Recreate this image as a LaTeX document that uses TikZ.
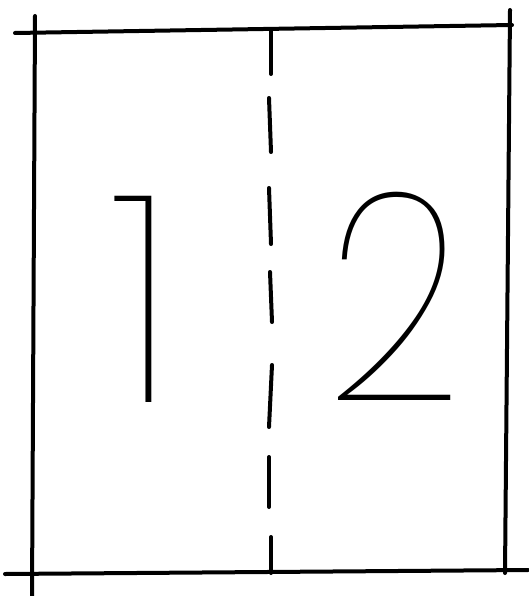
\documentclass[tikz,border=0pt]{standalone}
\usepackage{fontspec}
\newfontfamily\digitfont{Poppins Thin}
\begin{document}
\begin{tikzpicture}[x=1pt,y=-1pt,
  frame/.style={line width=4pt, line cap=round},
  dashseg/.style={line width=4pt, line cap=round},
  digit/.style={font=\digitfont\fontsize{293}{293}\selectfont, anchor=base, inner sep=0pt}]
\useasboundingbox (0,0) rectangle (528,596);
% frame
\coordinate (tl) at (15,33);
\coordinate (tr) at (512,25);
\coordinate (lt) at (35,16);
\coordinate (lb) at (32,596);
\coordinate (rt) at (510,10);
\coordinate (rb) at (505,573);
\coordinate (bl) at (5,574);
\coordinate (br) at (528,570);
\draw[frame] (tl) -- (tr);
\draw[frame] (lt) -- (lb);
\draw[frame] (rt) -- (rb);
\draw[frame] (bl) -- (br);
% dashed divider
\draw[dashseg] (271,30) -- (271,74);
\draw[dashseg] (269,98) -- (271,152);
\draw[dashseg] (269,188) -- (271,244);
\draw[dashseg] (270,272) -- (272,322);
\draw[dashseg] (272,365) -- (269,427);
\draw[dashseg] (269,457) -- (269,507);
\draw[dashseg] (271,537) -- (271,573);
% digits
\node[digit] (one) at (144,402) {1};
\node[digit, xscale=0.82] (two) at (395,400) {2};
\end{tikzpicture}
\end{document}
